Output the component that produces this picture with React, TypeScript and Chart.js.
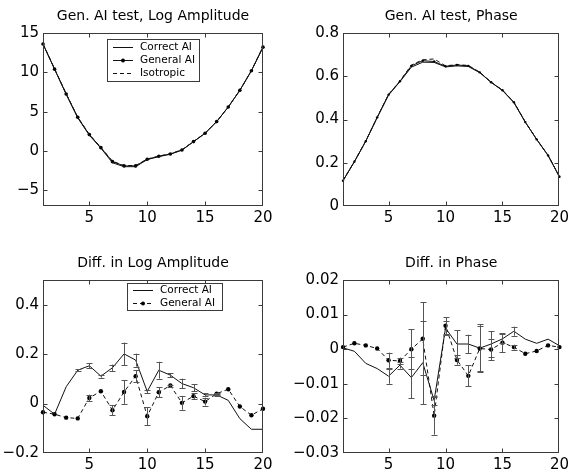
import React, { useEffect, useRef } from 'react';
import { Chart, registerables } from 'chart.js';

Chart.register(...registerables);

const FONT = '"DejaVu Sans", "Liberation Sans", Arial, sans-serif';

// ---------- data ----------
const xIndex = [1, 2, 3, 4, 5, 6, 7, 8, 9, 10, 11, 12, 13, 14, 15, 16, 17, 18, 19, 20];
const xTickValues = [5, 10, 15, 20];

// Gen. AI test, Log Amplitude
const logAmpTicks = [-5, 0, 5, 10, 15];
const logAmpCorrect = [13.6, 10.4, 7.2, 4.2, 2.0, 0.35, -1.5, -2.0, -2.0, -1.1, -0.72, -0.42, 0.1, 1.18, 2.24, 3.73, 5.58, 7.7, 10.2, 13.2];
const logAmpGeneral = [13.6, 10.4, 7.25, 4.28, 2.08, 0.42, -1.36, -1.9, -1.9, -1.06, -0.68, -0.38, 0.13, 1.19, 2.25, 3.73, 5.59, 7.71, 10.2, 13.2];
const logAmpIsotropic = [13.65, 10.45, 7.3, 4.3, 2.1, 0.45, -1.3, -1.85, -1.85, -1.03, -0.65, -0.35, 0.15, 1.2, 2.26, 3.75, 5.6, 7.72, 10.22, 13.25];

// Gen. AI test, Phase
const phaseTicks = [0, 0.2, 0.4, 0.6, 0.8];
const phaseCorrect = [0.117, 0.205, 0.3, 0.409, 0.513, 0.575, 0.642, 0.665, 0.664, 0.643, 0.648, 0.645, 0.617, 0.572, 0.534, 0.478, 0.388, 0.308, 0.234, 0.135];
const phaseGeneral = [0.117, 0.205, 0.3, 0.41, 0.515, 0.577, 0.648, 0.672, 0.668, 0.646, 0.652, 0.648, 0.618, 0.572, 0.535, 0.48, 0.388, 0.308, 0.234, 0.135];
const phaseIsotropic = [0.118, 0.206, 0.301, 0.41, 0.516, 0.578, 0.652, 0.676, 0.68, 0.648, 0.654, 0.65, 0.619, 0.573, 0.536, 0.481, 0.389, 0.308, 0.234, 0.136];

// Diff. in Log Amplitude
const dAmpTicks = [-0.2, 0, 0.2, 0.4];
const dAmpCorrect = [-0.007, -0.043, 0.068, 0.135, 0.153, 0.111, 0.145, 0.201, 0.176, 0.049, 0.135, 0.115, 0.081, 0.064, 0.035, 0.035, 0.013, -0.061, -0.104, -0.104];
const dAmpCorrectErr = [0, 0, 0, 0.004, 0.011, 0.006, 0.013, 0.046, 0.026, 0.007, 0.034, 0.009, 0.02, 0.014, 0.006, 0.004, 0, 0, 0, 0];
const dAmpGeneral = [-0.035, -0.043, -0.057, -0.06, 0.023, 0.05, -0.027, 0.047, 0.111, -0.051, 0.046, 0.073, 0.003, 0.03, 0.008, 0.04, 0.058, -0.012, -0.047, -0.021];
const dAmpGeneralErr = [0, 0, 0, 0, 0.013, 0, 0.02, 0.048, 0.025, 0.037, 0.021, 0.004, 0.028, 0.011, 0.016, 0.004, 0, 0, 0, 0];

// Diff. in Phase
const dPhaseTicks = [-0.03, -0.02, -0.01, 0, 0.01, 0.02];
const dPhaseCorrect = [0.0004, -0.0006, -0.0041, -0.0056, -0.0078, -0.0046, -0.0082, -0.0039, -0.0148, 0.0061, 0.0015, 0.0015, 0.0003, 0.0015, 0.003, 0.0052, 0.0029, 0.0017, 0.0029, 0.001];
const dPhaseCorrectErr = [0, 0, 0, 0, 0.0022, 0.001, 0.006, 0.012, 0.0012, 0.002, 0.004, 0.0027, 0.007, 0.0037, 0.0013, 0.0013, 0, 0, 0, 0];
const dPhaseGeneral = [0.0006, 0.0017, 0.0011, 0.0002, -0.0032, -0.0034, 0.0, 0.003, -0.0192, 0.0068, -0.0031, -0.0077, 0.0002, -0.0001, 0.0019, 0.0006, -0.0013, -0.0005, 0.0011, 0.0006];
const dPhaseGeneralErr = [0, 0, 0, 0, 0.0022, 0.001, 0.0058, 0.0105, 0.0055, 0.0024, 0.0014, 0.003, 0.0065, 0.003, 0.0027, 0.0007, 0, 0, 0, 0];

// ---------- helpers ----------
const pts = (vals: number[]) => vals.map((v, i) => ({ x: xIndex[i], y: v }));
const fmt = (v: number) => String(v).replace('-', '\u2212');

const axesBoxPlugin = {
  id: 'axesBox',
  afterDraw(chart: any) {
    const { ctx, chartArea: a, scales } = chart;
    ctx.save();
    ctx.strokeStyle = '#3a3a3a';
    ctx.lineWidth = 1;
    const L = Math.round(a.left) + 0.5;
    const R = Math.round(a.right) - 0.5;
    const T = Math.round(a.top) + 0.5;
    const B = Math.round(a.bottom) - 0.5;
    ctx.strokeRect(L, T, R - L, B - T);
    const tl = 4;
    ctx.beginPath();
    scales.x.ticks.forEach((t: any) => {
      const px = Math.round(scales.x.getPixelForValue(t.value)) + 0.5;
      if (px <= L + 1 || px >= R - 1) return;
      ctx.moveTo(px, B); ctx.lineTo(px, B - tl);
      ctx.moveTo(px, T); ctx.lineTo(px, T + tl);
    });
    scales.y.ticks.forEach((t: any) => {
      const py = Math.round(scales.y.getPixelForValue(t.value)) + 0.5;
      if (py <= T + 1 || py >= B - 1) return;
      ctx.moveTo(L, py); ctx.lineTo(L + tl, py);
      ctx.moveTo(R, py); ctx.lineTo(R - tl, py);
    });
    ctx.stroke();
    ctx.restore();
  },
};

const panelTitlePlugin = {
  id: 'panelTitle',
  afterDraw(chart: any) {
    const opts = chart.options.plugins.panelTitle;
    if (!opts) return;
    const { ctx, chartArea: a } = chart;
    ctx.save();
    ctx.font = `${opts.size}px ${FONT}`;
    ctx.fillStyle = '#000';
    ctx.textAlign = 'center';
    ctx.textBaseline = 'middle';
    ctx.fillText(opts.text, (a.left + a.right) / 2, a.top - opts.gap);
    ctx.restore();
  },
};

const errorBarPlugin = {
  id: 'errorBars',
  afterDatasetsDraw(chart: any) {
    const { ctx, scales } = chart;
    ctx.save();
    ctx.strokeStyle = '#555';
    ctx.lineWidth = 1;
    chart.data.datasets.forEach((ds: any) => {
      const errs: number[] | undefined = ds.errorBars;
      if (!errs) return;
      ds.data.forEach((p: any, i: number) => {
        const e = errs[i];
        if (!e) return;
        const px = Math.round(scales.x.getPixelForValue(p.x)) + 0.5;
        const y1 = scales.y.getPixelForValue(p.y - e);
        const y2 = scales.y.getPixelForValue(p.y + e);
        ctx.beginPath();
        ctx.moveTo(px, y1); ctx.lineTo(px, y2);
        ctx.moveTo(px - 3, Math.round(y1) + 0.5); ctx.lineTo(px + 3, Math.round(y1) + 0.5);
        ctx.moveTo(px - 3, Math.round(y2) + 0.5); ctx.lineTo(px + 3, Math.round(y2) + 0.5);
        ctx.stroke();
      });
    });
    ctx.restore();
  },
};

const boxLegendPlugin = {
  id: 'boxLegend',
  afterDraw(chart: any) {
    const opts = chart.options.plugins.boxLegend;
    if (!opts || !opts.show) return;
    const { ctx } = chart;
    const { x, y, w, rowH, firstRow } = opts;
    const dss = chart.data.datasets;
    const h = firstRow * 2 + rowH * (dss.length - 1);
    ctx.save();
    ctx.fillStyle = '#fff';
    ctx.fillRect(x, y, w, h);
    ctx.strokeStyle = '#3a3a3a';
    ctx.lineWidth = 1;
    ctx.strokeRect(x + 0.5, y + 0.5, w, h);
    ctx.font = `10.5px ${FONT}`;
    ctx.textBaseline = 'middle';
    ctx.textAlign = 'left';
    dss.forEach((ds: any, i: number) => {
      const cy = Math.round(y + firstRow + i * rowH) + 0.5;
      ctx.strokeStyle = ds.borderColor;
      ctx.lineWidth = 1;
      ctx.setLineDash(ds.borderDash || []);
      ctx.beginPath();
      ctx.moveTo(x + 6, cy);
      ctx.lineTo(x + 26, cy);
      ctx.stroke();
      ctx.setLineDash([]);
      if (ds.pointRadius > 0) {
        ctx.fillStyle = ds.pointBackgroundColor;
        ctx.beginPath();
        ctx.arc(x + 16, cy, 2, 0, Math.PI * 2);
        ctx.fill();
      }
      ctx.fillStyle = '#000';
      ctx.fillText(ds.label, x + 33, cy);
    });
    ctx.restore();
  },
};

type PanelCfg = {
  left: number; top: number; width: number; height: number;
  padL: number; padR: number; padB: number; padT: number;
  title: string; yMin: number; yMax: number; yTicks: number[];
  datasets: any[]; legend?: any;
};

const LINE = '#111';

const panels: PanelCfg[] = [
  {
    left: 0, top: 0, width: 290, height: 235, padL: 43, padR: 27, padB: 29, padT: 33,
    title: 'Gen. AI test, Log Amplitude', yMin: -7, yMax: 15, yTicks: logAmpTicks,
    datasets: [
      { label: 'Correct AI', data: pts(logAmpCorrect), borderColor: LINE, borderWidth: 1, pointRadius: 0 },
      { label: 'General AI', data: pts(logAmpGeneral), borderColor: LINE, borderWidth: 1, pointRadius: 1.8, pointBackgroundColor: '#000', pointBorderWidth: 0 },
      { label: 'Isotropic', data: pts(logAmpIsotropic), borderColor: LINE, borderWidth: 1, borderDash: [4, 3], pointRadius: 0 },
    ],
    legend: { show: true, x: 107, y: 39, w: 92, rowH: 13, firstRow: 8 },
  },
  {
    left: 290, top: 0, width: 282, height: 235, padL: 53, padR: 10, padB: 29, padT: 33,
    title: 'Gen. AI test, Phase', yMin: 0, yMax: 0.8, yTicks: phaseTicks,
    datasets: [
      { label: 'Correct AI', data: pts(phaseCorrect), borderColor: LINE, borderWidth: 1, pointRadius: 0 },
      { label: 'General AI', data: pts(phaseGeneral), borderColor: LINE, borderWidth: 1, pointRadius: 1.2, pointBackgroundColor: '#000', pointBorderWidth: 0 },
      { label: 'Isotropic', data: pts(phaseIsotropic), borderColor: LINE, borderWidth: 1, borderDash: [4, 3], pointRadius: 0 },
    ],
  },
  {
    left: 0, top: 235, width: 290, height: 240, padL: 43, padR: 27, padB: 22, padT: 45,
    title: 'Diff. in Log Amplitude', yMin: -0.2, yMax: 0.5, yTicks: dAmpTicks,
    datasets: [
      { label: 'Correct AI', data: pts(dAmpCorrect), errorBars: dAmpCorrectErr, borderColor: LINE, borderWidth: 1, pointRadius: 0 },
      { label: 'General AI', data: pts(dAmpGeneral), errorBars: dAmpGeneralErr, borderColor: LINE, borderWidth: 1, borderDash: [4, 3], pointRadius: 2.2, pointBackgroundColor: '#000', pointBorderWidth: 0 },
    ],
    legend: { show: true, x: 127, y: 48, w: 95, rowH: 13, firstRow: 7 },
  },
  {
    left: 290, top: 235, width: 282, height: 240, padL: 53, padR: 10, padB: 22, padT: 45,
    title: 'Diff. in Phase', yMin: -0.03, yMax: 0.02, yTicks: dPhaseTicks,
    datasets: [
      { label: 'Correct AI', data: pts(dPhaseCorrect), errorBars: dPhaseCorrectErr, borderColor: LINE, borderWidth: 1, pointRadius: 0 },
      { label: 'General AI', data: pts(dPhaseGeneral), errorBars: dPhaseGeneralErr, borderColor: LINE, borderWidth: 1, borderDash: [4, 3], pointRadius: 2.2, pointBackgroundColor: '#000', pointBorderWidth: 0 },
    ],
  },
];

function Panel({ cfg }: { cfg: PanelCfg }) {
  const ref = useRef<HTMLCanvasElement>(null);
  useEffect(() => {
    const tickFont = { family: FONT, size: 15 };
    const chart = new Chart(ref.current as HTMLCanvasElement, {
      type: 'line',
      data: { datasets: cfg.datasets.map((d) => ({ ...d, tension: 0, clip: false, fill: false })) },
      options: {
        animation: false,
        responsive: false,
        events: [],
        layout: { padding: { left: 0, right: cfg.padR, top: cfg.padT, bottom: 0 } },
        plugins: {
          legend: { display: false },
          tooltip: { enabled: false },
          title: { display: false },
          panelTitle: { text: cfg.title, size: 14, gap: 17 },
          boxLegend: cfg.legend,
        } as any,
        scales: {
          x: {
            type: 'linear',
            min: 1,
            max: 20,
            grid: { display: false, drawTicks: false },
            border: { display: false },
            afterBuildTicks: (s: any) => { s.ticks = xTickValues.map((v) => ({ value: v })); },
            afterFit: (s: any) => { s.height = cfg.padB; },
            ticks: { font: tickFont, color: '#000', padding: 3, maxRotation: 0, autoSkip: false, callback: (v: any) => fmt(Number(v)) },
          },
          y: {
            type: 'linear',
            min: cfg.yMin,
            max: cfg.yMax,
            grid: { display: false, drawTicks: false },
            border: { display: false },
            afterBuildTicks: (s: any) => { s.ticks = cfg.yTicks.map((v) => ({ value: v })); },
            afterFit: (s: any) => { s.width = cfg.padL; },
            ticks: { font: tickFont, color: '#000', padding: 4, autoSkip: false, callback: (v: any) => fmt(Number(v)) },
          },
        },
      } as any,
      plugins: [errorBarPlugin, axesBoxPlugin, boxLegendPlugin, panelTitlePlugin],
    });
    return () => chart.destroy();
  }, [cfg]);
  return (
    <canvas
      ref={ref}
      width={cfg.width}
      height={cfg.height}
      style={{ position: 'absolute', left: cfg.left, top: cfg.top, width: cfg.width, height: cfg.height }}
    />
  );
}

export default function App() {
  return (
    <div style={{ position: 'absolute', left: 0, top: 0, width: 572, height: 475, background: '#fff', overflow: 'hidden' }}>
      {panels.map((p, i) => (
        <Panel key={i} cfg={p} />
      ))}
    </div>
  );
}
